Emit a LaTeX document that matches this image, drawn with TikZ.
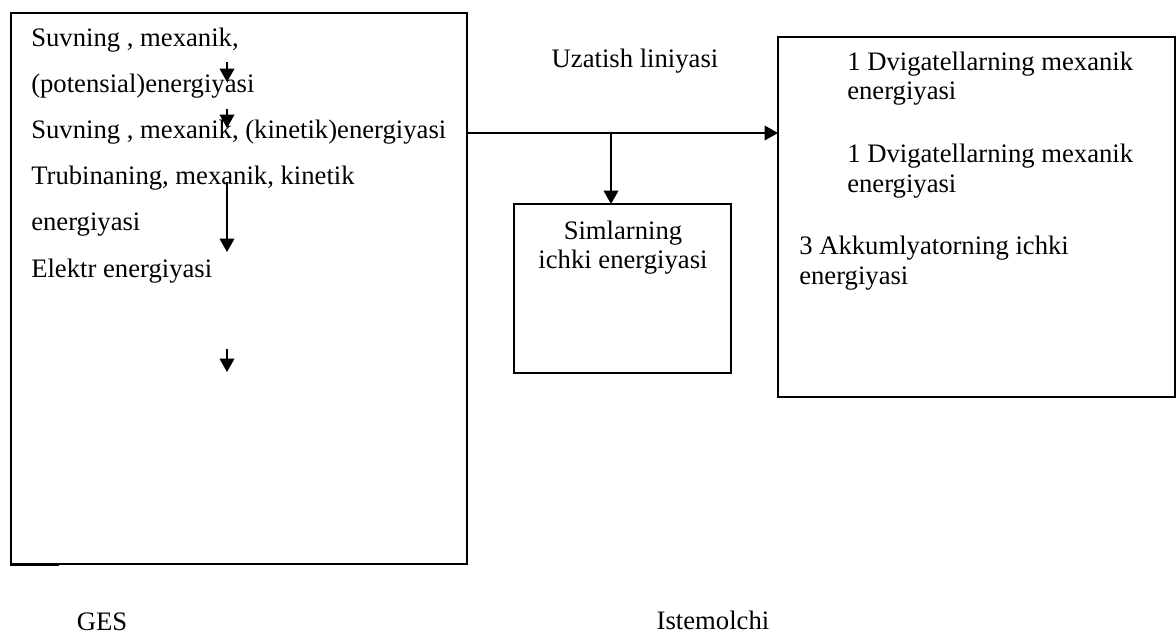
\documentclass[tikz,border=0pt]{standalone}
\usepackage{fontspec}
\setmainfont{Liberation Serif}
\usetikzlibrary{arrows.meta}
\begin{document}
\begin{tikzpicture}[x=0.75pt,y=-0.75pt,
  txt/.style={anchor=base west,inner sep=0pt,font=\fontsize{20}{24}\selectfont},
  ctxt/.style={anchor=base,inner sep=0pt,font=\fontsize{20}{24}\selectfont},
  box/.style={draw,line width=1pt},
  arr/.style={line width=1.2pt,-{Triangle[length=10pt,width=11pt]}},
  conn/.style={line width=0.9pt}]
\useasboundingbox (0,0) rectangle (1176,634);
% boxes
\draw[box] (11,13) rectangle (467,564);
\draw[line width=1.6pt] (10,565) -- (59,565);
\draw[box] (514,204) rectangle (731,373);
\draw[box] (778,37) rectangle (1175,397);
\coordinate (ges) at (467,133);
\coordinate (ist) at (778,133);
\coordinate (br) at (611,133);
\coordinate (sim) at (611,204);
% left texts
\node[txt] (t1) at (31,47) {Suvning , mexanik,};
\node[txt] (t2) at (31,93) {(potensial)energiyasi};
\node[txt] (t3) at (31,139) {Suvning , mexanik, (kinetik)energiyasi};
\node[txt] (t4) at (31,185) {Trubinaning, mexanik, kinetik};
\node[txt] (t5) at (31,231) {energiyasi};
\node[txt] (t6) at (31,277) {Elektr energiyasi};
% left arrows
\coordinate (a1s) at (227,62); \coordinate (a1e) at (227,82);
\coordinate (a2s) at (227,109); \coordinate (a2e) at (227,128);
\coordinate (a3s) at (227,182); \coordinate (a3e) at (227,252);
\coordinate (a4s) at (227,349); \coordinate (a4e) at (227,372);
\draw[arr] (a1s) -- (a1e);
\draw[arr] (a2s) -- (a2e);
\draw[arr] (a3s) -- (a3e);
\draw[arr] (a4s) -- (a4e);
% connectors
\draw[conn,-{Triangle[length=10pt,width=11pt]}] (ges) -- (ist);
\draw[line width=1.5pt] (ges) -- (513,133);
\draw[arr] (br) -- (sim);
% labels
\node[ctxt] (uz) at (635,68) {Uzatish liniyasi};
\node[ctxt] (s1) at (623,240) {Simlarning};
\node[ctxt] (s2) at (623,268) {ichki energiyasi};
\node[txt] (r1) at (847,71) {1 Dvigatellarning mexanik};
\node[txt] (r2) at (847,100) {energiyasi};
\node[txt] (r3) at (847,163) {1 Dvigatellarning mexanik};
\node[txt] (r4) at (847,193) {energiyasi};
\node[txt] (r5) at (799,255) {3 Akkumlyatorning ichki};
\node[txt] (r6) at (799,285) {energiyasi};
\node[ctxt] (gl) at (102,630) {GES};
\node[ctxt] (il) at (713,629) {Istemolchi};
\end{tikzpicture}
\end{document}
